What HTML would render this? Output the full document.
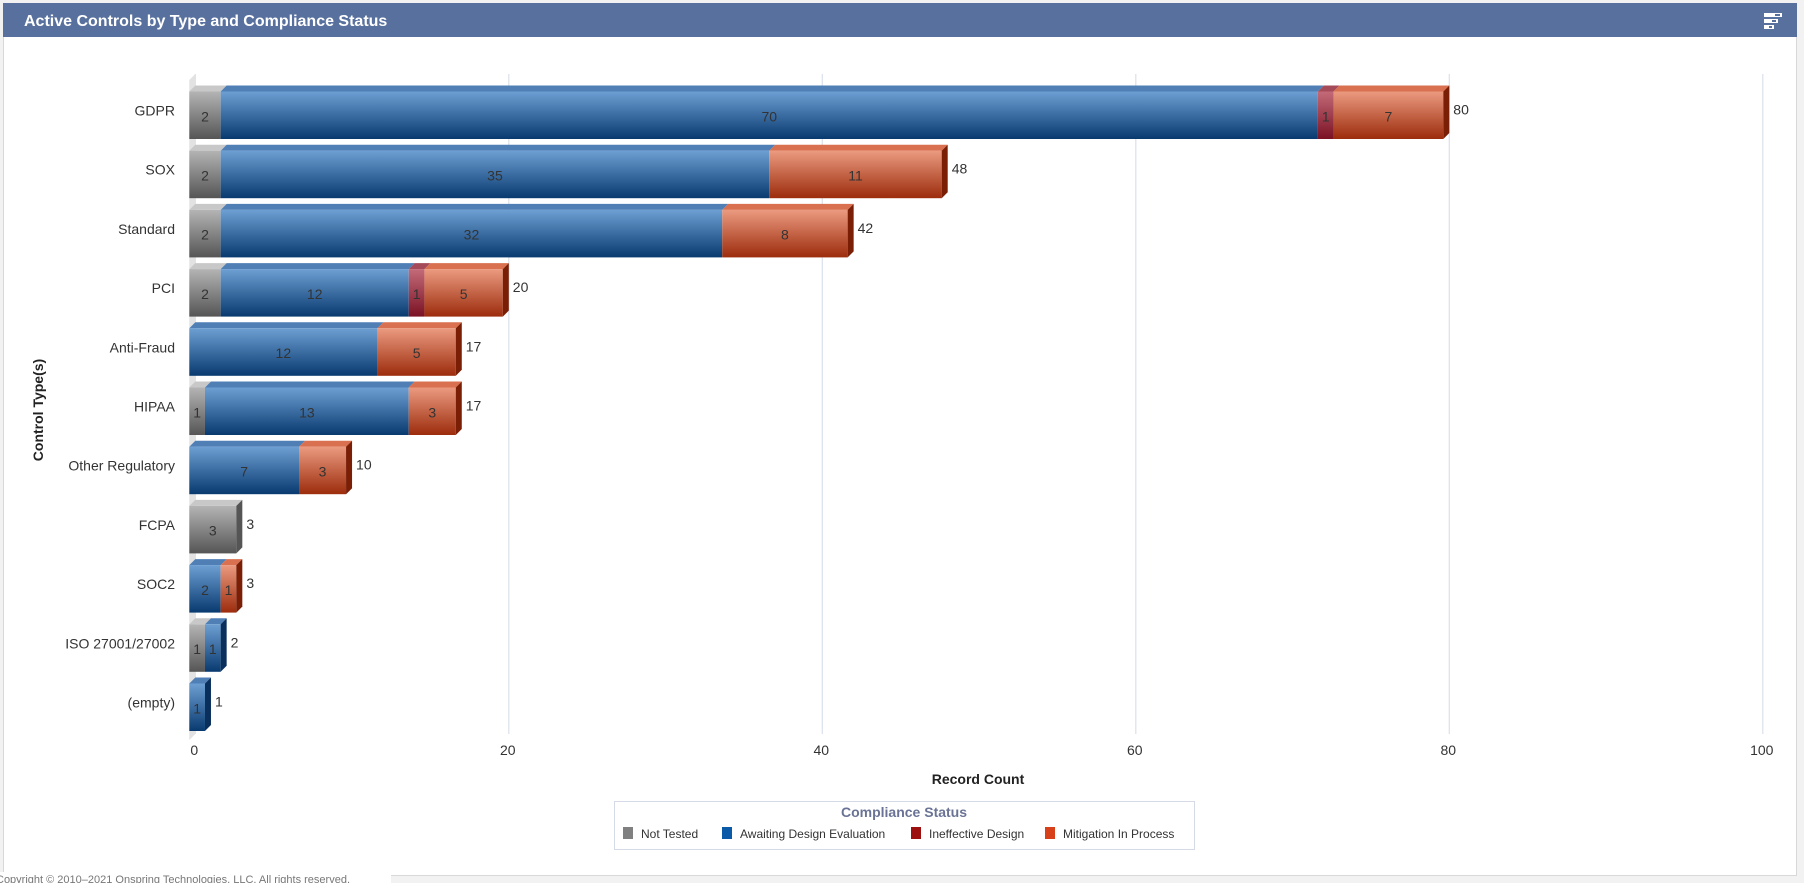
<!DOCTYPE html>
<html><head><meta charset="utf-8"><style>
html,body{margin:0;padding:0;width:1804px;height:883px;overflow:hidden;background:#f2f2f2;font-family:"Liberation Sans",sans-serif}
#panel{position:absolute;left:3px;top:3px;width:1794px;height:873px;background:#fff;border:1px solid #d8d8d8;box-sizing:border-box}
#hdr{position:absolute;left:3px;top:3px;width:1794px;height:34px;background:#58709e}
#title{position:absolute;left:21px;top:10px;color:#fff;font-weight:bold;font-size:16px}
#copy{position:absolute;left:0;top:872px;width:391px;height:11px;background:#fff;font-size:11px;color:#777;line-height:16px;white-space:nowrap;overflow:hidden;text-indent:-4px}
</style></head><body>
<div id="panel"></div>
<div id="hdr">
<div id="title">Active Controls by Type and Compliance Status</div>
<svg style="position:absolute;left:1761px;top:8px" width="20" height="20">
<rect x="0" y="2" width="18" height="4" fill="#fff"/><rect x="0" y="8" width="14" height="4" fill="#fff"/><rect x="0" y="14" width="10" height="4" fill="#fff"/>
<rect x="11" y="3" width="5" height="2" fill="#58709e"/><rect x="8" y="9" width="4" height="2" fill="#58709e"/><rect x="5" y="15" width="3" height="2" fill="#58709e"/>
</svg></div>
<svg id="chart" width="1804" height="883" style="position:absolute;left:0;top:0">
<defs>
<linearGradient id="g0" x1="0" y1="0" x2="0" y2="1"><stop offset="0" stop-color="#b4b4b4"/><stop offset="1" stop-color="#555"/></linearGradient>
<linearGradient id="g1" x1="0" y1="0" x2="0" y2="1"><stop offset="0" stop-color="#6d9fd3"/><stop offset="1" stop-color="#083a70"/></linearGradient>
<linearGradient id="g2" x1="0" y1="0" x2="0" y2="1"><stop offset="0" stop-color="#c36a78"/><stop offset="1" stop-color="#7a1224"/></linearGradient>
<linearGradient id="g3" x1="0" y1="0" x2="0" y2="1"><stop offset="0" stop-color="#eb9a80"/><stop offset="1" stop-color="#9c2c0c"/></linearGradient>
</defs>
</svg>
<div id="copy">Copyright © 2010–2021 Onspring Technologies, LLC. All rights reserved.</div>
<script>
const categories=["GDPR","SOX","Standard","PCI","Anti-Fraud","HIPAA","Other Regulatory","FCPA","SOC2","ISO 27001/27002","(empty)"];
const notTested=[2,2,2,2,0,1,0,3,0,1,0];
const awaitingDesign=[70,35,32,12,12,13,7,0,2,1,1];
const ineffectiveDesign=[1,0,0,1,0,0,0,0,0,0,0];
const mitigation=[7,11,8,5,5,3,3,0,1,0,0];
const xTicks=[0,20,40,60,80,100];
const seriesNames=["Not Tested","Awaiting Design Evaluation","Ineffective Design","Mitigation In Process"];
const series=[notTested,awaitingDesign,ineffectiveDesign,mitigation];
const tops=["#c8c8c8","#4f7fb5","#a44a58","#d9704f"];
const sides=["#555","#0a2f5c","#5c0c18","#7a1e06"];
const legendCol=["#808080","#0b5aa8","#9c1010","#d8401a"];
const NS="http://www.w3.org/2000/svg";
const svg=document.getElementById('chart');
const X0=195.3,XS=15.675,BOT=734,D=6;
const band=59.2,FIRST=112.5;
const x=v=>X0+v*XS;
const yc=i=>FIRST+band*i;
function mk(t,a,p){const e=document.createElementNS(NS,t);for(const k in a)e.setAttribute(k,a[k]);(p||svg).appendChild(e);return e;}
xTicks.forEach(t=>{
 const g=mk('line',{x1:x(t),x2:x(t),y1:74,y2:BOT,stroke:'#dde3ec','stroke-width':1.3});
 
 
 const l=mk('text',{x:x(t)-1,y:755,'text-anchor':'middle','font-size':14,fill:'#333'});
 l.textContent=t;
 
 
});
const wall=mk('polygon',{points:`${X0-D},${80} ${X0},${74} ${X0},${BOT} ${X0-D},${BOT+D}`,fill:'#e2e2e2'});


categories.forEach((c,i)=>{
 const cy=yc(i);
 const t=mk('text',{x:175,y:cy+3,'text-anchor':'end','font-size':14,fill:'#333'});
 t.textContent=c;
 
 
 const fy=cy-21,fh=47.5;
 let acc=0,last=-1;
 series.forEach((s,k)=>{
  const v=s[i]; if(!v)return;
  const x1=x(acc)-D,x2=x(acc+v)-D;
  const g=mk('g',{});
  
  
  mk('polygon',{points:`${x1},${fy} ${x1+D},${fy-D} ${x2+D},${fy-D} ${x2},${fy}`,fill:tops[k]},g);
  mk('rect',{x:x1,y:fy,width:x2-x1,height:fh,fill:`url(#g${k})`},g);
  const vl=mk('text',{x:(x1+x2)/2,y:fy+fh/2+6,'text-anchor':'middle','font-size':14,fill:'#333'},g);
  vl.textContent=v;
  acc+=v;last=k;
 });
 if(last>=0){
  const xe=x(acc)-D;
  const sd=mk('polygon',{points:`${xe},${fy} ${xe+D},${fy-D} ${xe+D},${fy+fh-D} ${xe},${fy+fh}`,fill:sides[last]});
  
  
 }
 const tl=mk('text',{x:x(acc)+4,y:cy+2,'font-size':14,fill:'#333'});
 tl.textContent=acc;
 
 
});
const xt=mk('text',{x:978,y:784,'text-anchor':'middle','font-size':14,'font-weight':'bold',fill:'#222'});
xt.textContent='Record Count';


const yt=mk('text',{x:0,y:0,'text-anchor':'middle','font-size':14,'font-weight':'bold',fill:'#222',transform:'translate(43,410) rotate(-90)'});
yt.textContent='Control Type(s)';


const lg=mk('g',{});


mk('rect',{x:614.5,y:801.5,width:580,height:48,fill:'#fff',stroke:'#d5dbe6'},lg);
const lt=mk('text',{x:904,y:817,'text-anchor':'middle','font-size':14,'font-weight':'bold',fill:'#6a7395'},lg);
lt.textContent='Compliance Status';
const lx=[623,722,911,1045];
seriesNames.forEach((n,k)=>{
 const e=mk('g',{},lg);
 
 
 mk('rect',{x:lx[k],y:827,width:10,height:12,fill:legendCol[k]},e);
 const tx=mk('text',{x:lx[k]+18,y:838,'font-size':12,fill:'#333'},e);
 tx.textContent=n;
});
</script>
</body></html>
